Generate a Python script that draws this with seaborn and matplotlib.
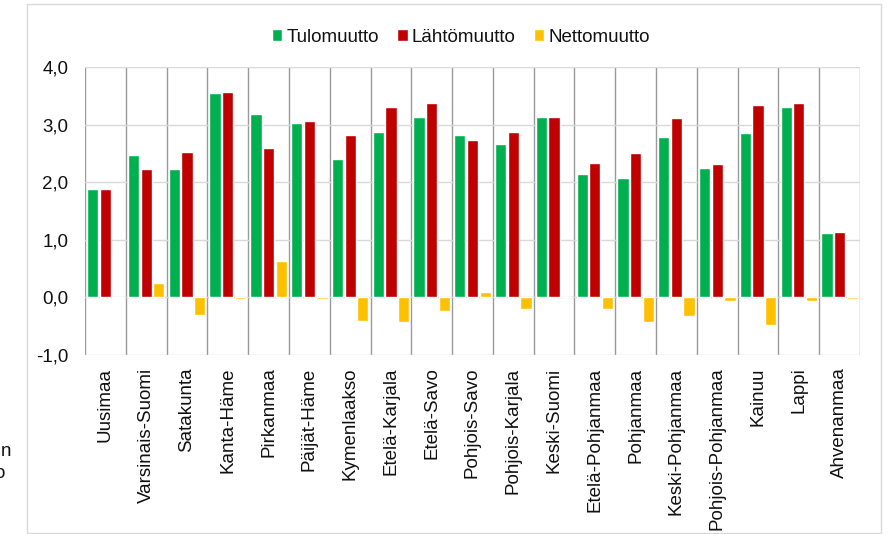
import pandas as pd
import matplotlib
matplotlib.use("Agg")
import matplotlib.pyplot as plt
import seaborn as sns
from matplotlib.patches import Rectangle
from matplotlib.ticker import FuncFormatter, MultipleLocator

# STYLE SETTINGS
sns.set_style("white")
plt.rcParams['font.family'] = ['Liberation Sans', 'DejaVu Sans']

# DATA
regions = [
    'Uusimaa', 'Varsinais-Suomi', 'Satakunta', 'Kanta-Häme', 'Pirkanmaa',
    'Päijät-Häme', 'Kymenlaakso', 'Etelä-Karjala', 'Etelä-Savo',
    'Pohjois-Savo', 'Pohjois-Karjala', 'Keski-Suomi', 'Etelä-Pohjanmaa',
    'Pohjanmaa', 'Keski-Pohjanmaa', 'Pohjois-Pohjanmaa', 'Kainuu',
    'Lappi', 'Ahvenanmaa'
]
tulomuutto = [1.89, 2.47, 2.23, 3.55, 3.19, 3.03, 2.41, 2.87, 3.14,
              2.82, 2.67, 3.13, 2.14, 2.08, 2.79, 2.24, 2.86, 3.30, 1.11]
lahtomuutto = [1.88, 2.23, 2.52, 3.57, 2.59, 3.06, 2.82, 3.31, 3.38,
               2.74, 2.88, 3.13, 2.34, 2.51, 3.12, 2.32, 3.34, 3.37, 1.14]
nettomuutto = [-0.01, 0.25, -0.30, -0.02, 0.63, -0.02, -0.41, -0.43, -0.23,
               0.09, -0.20, 0.00, -0.20, -0.43, -0.33, -0.06, -0.48, -0.06, -0.02]
series = ['Tulomuutto', 'Lähtömuutto', 'Nettomuutto']
colors = ['#00B050', '#C00000', '#FFC000']

df = pd.DataFrame({
    'Maakunta': regions * 3,
    'Muutto': [s for s in series for _ in regions],
    'Arvo': tulomuutto + lahtomuutto + nettomuutto,
})

fig = plt.figure(figsize=(8.9, 5.34), dpi=100)
ax = fig.add_axes([85 / 890, 1 - 355 / 534, 775 / 890, 288 / 534])

sns.barplot(
    data=df, x='Maakunta', y='Arvo', hue='Muutto',
    hue_order=series, palette=colors, order=regions,
    width=0.93, gap=0.11, ax=ax, legend=True,
    saturation=1, errorbar=None
)

# AXES
ax.set_ylim(-1.0, 4.0)
ax.set_xlim(-0.5, len(regions) - 0.5)
ax.yaxis.set_major_locator(MultipleLocator(1.0))
ax.yaxis.set_major_formatter(FuncFormatter(lambda v, p: f"{v:.1f}".replace('.', ',')))
ax.set_xlabel("")
ax.set_ylabel("")
ax.grid(axis='y', color='#d9d9d9', linewidth=1)
ax.set_axisbelow(True)
for s in ax.spines.values():
    s.set_visible(False)
for i in range(len(regions) + 1):
    ax.axvline(i - 0.5, color='#9a9a9a', linewidth=1, zorder=0.5)

ax.tick_params(axis='y', length=0, pad=12, labelsize=13.5, labelcolor='#111111')
ax.tick_params(axis='x', length=0, pad=9, labelsize=13.5, labelcolor='#111111')
plt.setp(ax.get_xticklabels(), rotation=90, ha='center', va='top')

# LEGEND
handles, labels = ax.get_legend_handles_labels()
ax.legend(handles, labels, loc='center', bbox_to_anchor=(0.485, (355 - 37) / 288),
          ncol=3, frameon=False, fontsize=13.5, handlelength=0.55, handleheight=0.55,
          handletextpad=0.2, columnspacing=1.0, labelcolor='#111111')

# FIGURE BORDER AND CLIPPED TEXT AT LEFT EDGE
fig.patches.append(Rectangle((27 / 890, 1 - 533 / 534), 854 / 890, 529 / 534,
                             transform=fig.transFigure, fill=False,
                             edgecolor='#d9d9d9', linewidth=1))
fig.text(11 / 890, 1 - 452 / 534, "n", ha='right', va='center', fontsize=13.5, color='#111111')
fig.text(5 / 890, 1 - 474 / 534, "o", ha='right', va='center', fontsize=13.5, color='#111111')

fig.savefig('out.png', dpi=100)
